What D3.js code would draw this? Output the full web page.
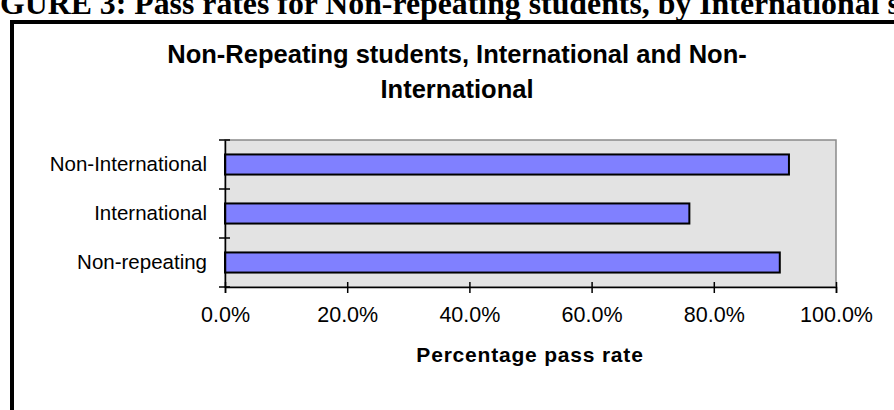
<!DOCTYPE html>
<html>
<head>
<meta charset="utf-8">
<script src="https://cdn.jsdelivr.net/npm/d3@7"></script>
<style>
  html, body { margin: 0; padding: 0; background: #fff; overflow: hidden; }
  text { font-family: "Liberation Sans", Arial, sans-serif; fill: #000; }
</style>
</head>
<body>
<div id="chart"></div>
<script>
// chart data
const categories = ["Non-repeating", "International", "Non-International"];
const passRates = [0.908, 0.760, 0.923];
const xTicks = [0, 0.2, 0.4, 0.6, 0.8, 1.0];
const titleLines = ["Non-Repeating students, International and Non-", "International"];
const xTitle = "Percentage pass rate";
const caption = "FIGURE 3: Pass rates for Non-repeating students, by International status";

const w = 894, h = 410;
const plot = { left: 225, right: 836, top: 140, bottom: 287 };

const svg = d3.select("#chart")
  .append("svg")
  .attr("width", w)
  .attr("height", h)
  .attr("viewBox", [0, 0, w, h]);

// caption of the page, cut by the top edge
const cap = svg.append("text")
  .style("font-family", "'Liberation Serif', 'Times New Roman', serif")
  .style("font-weight", "bold")
  .style("font-size", "100px")
  .text("FI");
const fiW = cap.node().getComputedTextLength();
cap.text("GURE 3: Pass rates for Non-repeating students, by International s");
const visW = cap.node().getComputedTextLength();
const capSize = 100 * 900 / visW;
cap.style("font-size", capSize + "px")
  .attr("x", -fiW * capSize / 100)
  .attr("y", 14)
  .text(caption);

// chart frame
svg.append("rect")
  .attr("x", 12)
  .attr("y", 22)
  .attr("width", w + 50)
  .attr("height", h + 50)
  .attr("fill", "#fff")
  .attr("stroke", "#000")
  .attr("stroke-width", 4);

const x = d3.scaleLinear()
  .domain([0, 1])
  .range([plot.left, plot.right]);

const y = d3.scaleBand()
  .domain(categories)
  .range([plot.bottom, plot.top])
  .paddingInner(0.59)
  .paddingOuter(0.295);

// plot area
svg.append("rect")
  .attr("x", plot.left)
  .attr("y", plot.top)
  .attr("width", plot.right - plot.left)
  .attr("height", plot.bottom - plot.top)
  .attr("fill", "#e3e3e3")
  .attr("stroke", "#8a8a8a")
  .attr("stroke-width", 1.5);

svg.selectAll(".bar")
  .data(categories)
  .join("rect")
    .attr("class", "bar")
    .attr("x", x(0))
    .attr("y", d => y(d))
    .attr("width", (d, i) => x(passRates[i]) - x(0))
    .attr("height", y.bandwidth())
    .attr("fill", "#8080ff")
    .attr("stroke", "#000")
    .attr("stroke-width", 2);

// x axis
const xAxis = svg.append("g")
  .attr("transform", `translate(0,${plot.bottom})`)
  .call(d3.axisBottom(x).tickValues(xTicks).tickFormat(d3.format(".1%")).tickSize(6).tickPadding(14));
xAxis.select(".domain").attr("stroke", "#000").attr("stroke-width", 1.5);
xAxis.selectAll(".tick line").attr("y1", -5).attr("stroke-width", 1.5);
xAxis.selectAll(".tick text")
  .attr("font-size", 21.5)
  .attr("font-family", null);

// y axis: ticks between categories
const yAxis = svg.append("g")
  .attr("transform", `translate(${plot.left},0)`)
  .call(d3.axisLeft(y).tickSize(0).tickPadding(18));
yAxis.select(".domain").attr("stroke", "#000").attr("stroke-width", 1.5);
yAxis.selectAll(".tick text")
  .attr("font-size", 20.5)
  .attr("font-family", null);
yAxis.selectAll(".sep")
  .data(d3.range(categories.length + 1))
  .join("line")
    .attr("class", "sep")
    .attr("x1", -6)
    .attr("x2", 5)
    .attr("y1", i => plot.bottom - i * (plot.bottom - plot.top) / categories.length)
    .attr("y2", i => plot.bottom - i * (plot.bottom - plot.top) / categories.length)
    .attr("stroke", "#000")
    .attr("stroke-width", 1.5);

// titles
svg.append("text")
  .attr("text-anchor", "middle")
  .attr("font-weight", "bold")
  .attr("font-size", 25.5)
  .selectAll("tspan")
  .data(titleLines)
  .join("tspan")
    .attr("x", 457)
    .attr("y", (d, i) => 63 + i * 35)
    .text(d => d);

svg.append("text")
  .attr("x", 530)
  .attr("y", 362)
  .attr("text-anchor", "middle")
  .attr("font-weight", "bold")
  .attr("font-size", 21)
  .attr("letter-spacing", 0.8)
  .text(xTitle);
</script>
</body>
</html>
